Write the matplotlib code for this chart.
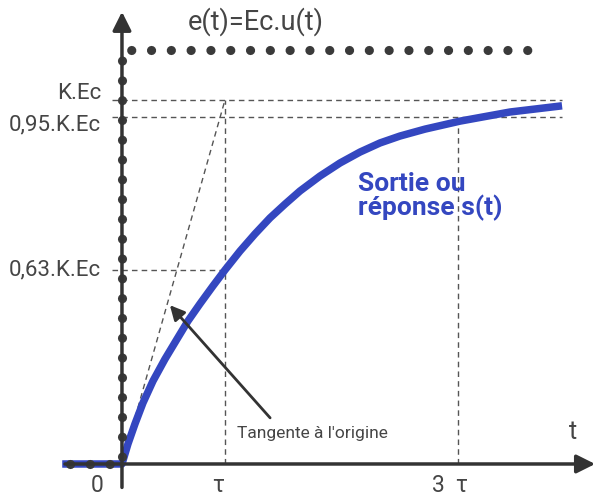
import matplotlib
matplotlib.use("Agg")
import matplotlib.pyplot as plt

# step response (t in units of tau, s in units of K.Ec)
t_out = [-0.58, 0.0, 0.058, 0.126, 0.204, 0.301, 0.417, 0.534, 0.641, 0.757,
         0.883, 1.0, 1.146, 1.291, 1.437, 1.583, 1.728, 1.922, 2.117, 2.311,
         2.505, 2.699, 2.942, 3.282, 3.767, 4.272]
s_out = [0.0, 0.0, 0.055, 0.110, 0.168, 0.228, 0.288, 0.343, 0.393, 0.440,
         0.489, 0.533, 0.585, 0.632, 0.676, 0.714, 0.750, 0.791, 0.827, 0.857,
         0.882, 0.901, 0.920, 0.942, 0.967, 0.984]

# input step e(t)
t_in = [-0.50, 0.0, 0.0, 3.96]
e_in = [0.0, 0.0, 1.137, 1.137]

# reference levels / times
level_K = 1.0
level_95 = 0.953
level_63 = 0.533
tau = 1.0
tau3 = 3.262

y_labels = ["K.Ec", "0,95.K.Ec", "0,63.K.Ec"]
x_labels = ["0", "τ", "3  τ"]

plt.rcParams['font.family'] = ['Roboto', 'DejaVu Sans']
grey = '#454545'
blue = '#3447c0'

fig = plt.figure(figsize=(6.01, 4.97), dpi=100)
ax = fig.add_axes([0, 0, 1, 1])
ax.set_xlim(-1.184, 4.65)
ax.set_ylim(-0.0907, 1.2747)
ax.axis('off')

# axes with arrows
ax.annotate('', xy=(0, 1.25), xytext=(0, -0.072),
            arrowprops=dict(arrowstyle='-|>', lw=2.5, color='#333333', mutation_scale=28))
ax.annotate('', xy=(4.62, 0), xytext=(-0.58, 0),
            arrowprops=dict(arrowstyle='-|>', lw=2.5, color='#333333', mutation_scale=28))

# dashed guide lines
dash = dict(color='#555555', lw=1.0, ls=(0, (4, 3)))
ax.plot([-0.1, 4.27], [level_K, level_K], **dash)
ax.plot([-0.1, 4.27], [level_95, level_95], **dash)
ax.plot([-0.1, tau], [level_63, level_63], **dash)
ax.plot([tau, tau], [0, level_K], **dash)
ax.plot([tau3, tau3], [0, level_95], **dash)
ax.plot([0, tau], [0, level_K], **dash)

# output curve and dotted input
ax.plot(t_out, s_out, color=blue, lw=5.4, solid_capstyle='butt', solid_joinstyle='round')
ax.plot(t_in, e_in, color='#3a3a3a', lw=6.6, ls=(0, (0.01, 2.15)),
        dash_capstyle='round')

# annotation arrow to the tangent
ax.annotate('', xy=(0.447, 0.442), xytext=(1.456, 0.121),
            arrowprops=dict(arrowstyle='-|>', lw=2, color='#333333', mutation_scale=22))

# texts
for lab, lv in zip(y_labels, [1.017, 0.931, level_63]):
    ax.text(-0.2, lv, lab, ha='right', va='center', fontsize=16, color=grey)
for lab, tv in zip(x_labels, [-0.24, tau - 0.07, tau3 - 0.08]):
    ax.text(tv, -0.058, lab, ha='center', va='center', fontsize=16.5, color=grey)
ax.text(1.30, 1.214, "e(t)=Ec.u(t)", ha='center', va='center', fontsize=19.5, color=grey)
ax.text(2.29, 0.735, "Sortie ou\nréponse s(t)", ha='left', va='center',
        fontsize=19, color=blue, fontweight='bold', linespacing=0.95)
ax.text(1.12, 0.085, "Tangente à l'origine", ha='left', va='center', fontsize=12.5, color=grey)
ax.text(4.38, 0.088, "t", ha='center', va='center', fontsize=18, color=grey)

fig.savefig('out.png', dpi=100)
